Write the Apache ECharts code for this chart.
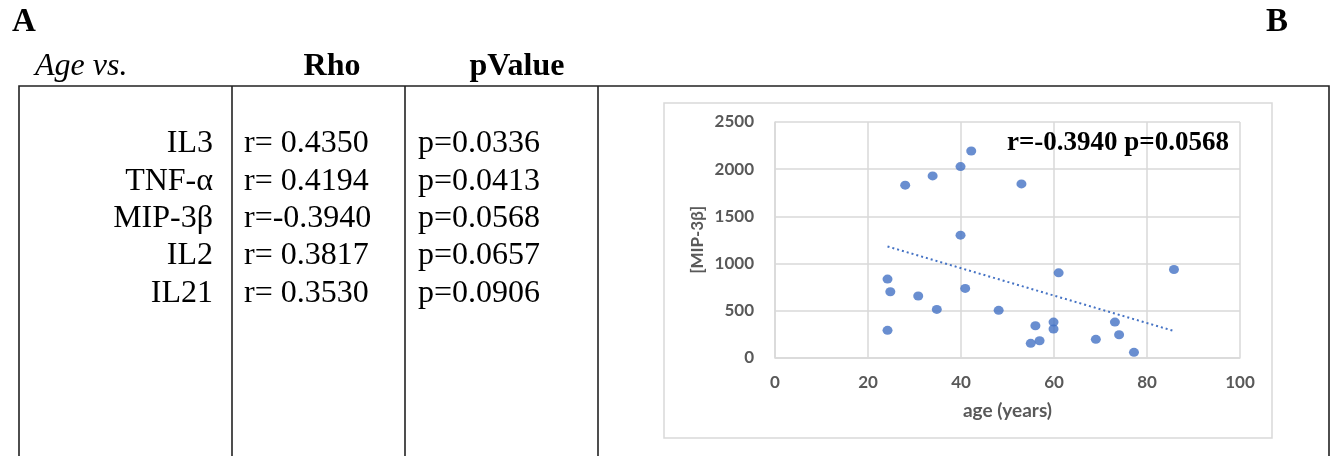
<!DOCTYPE html>
<html><head><meta charset="utf-8">
<script src="https://cdn.jsdelivr.net/npm/echarts@6/dist/echarts.min.js"></script>
<style>html,body{margin:0;padding:0;background:#fff;}#c{width:1331px;height:456px;}</style>
</head><body><div id="c"></div>
<script>
// ---- Table (panel A) ----
const headers = ['Age vs.', 'Rho', 'pValue'];
const markers = ['IL3', 'TNF-α', 'MIP-3β', 'IL2', 'IL21'];
const rhoText = ['r= 0.4350', 'r= 0.4194', 'r=-0.3940', 'r= 0.3817', 'r= 0.3530'];
const pText = ['p=0.0336', 'p=0.0413', 'p=0.0568', 'p=0.0657', 'p=0.0906'];

// ---- Scatter (panel B) ----
const ageYears = [28.0, 33.9, 39.9, 42.2, 39.9, 24.2, 24.8, 30.8, 40.9, 53.0, 61.0, 85.8,
                  34.8, 24.2, 48.1, 56.0, 55.0, 56.9, 59.9, 59.9, 69.0, 73.1, 74.0, 77.2];
const mip3b = [1830, 1928, 2027, 2193, 1300, 834, 700, 654, 735, 1843, 900, 936,
               512, 290, 502, 339, 152, 180, 378, 304, 195, 378, 244, 57];
const trendAge = [24.2, 85.8];
const trendMip = [1180, 283];
const annotation = 'r=-0.3940 p=0.0568';
const xName = 'age (years)';
const yName = '[MIP-3β]';

const serif = '"Liberation Serif", "Times New Roman", serif';
const sans = 'Lato, "Open Sans", sans-serif';

const graphics = [];
// panel letters
graphics.push({type:'text', x:12, y:22, style:{text:'A', font:'bold 33px ' + serif, fill:'#000', textVerticalAlign:'middle'}});
graphics.push({type:'text', x:1266, y:22, style:{text:'B', font:'bold 33px ' + serif, fill:'#000', textVerticalAlign:'middle'}});
// headers
graphics.push({type:'text', x:35, y:67, style:{text:headers[0], font:'italic 32px ' + serif, fill:'#000', textVerticalAlign:'middle'}});
graphics.push({type:'text', x:332, y:67, style:{text:headers[1], font:'bold 32px ' + serif, fill:'#000', textAlign:'center', textVerticalAlign:'middle'}});
graphics.push({type:'text', x:517, y:67, style:{text:headers[2], font:'bold 32px ' + serif, fill:'#000', textAlign:'center', textVerticalAlign:'middle'}});
// table frame
const lineStyle = {stroke:'#222', lineWidth:1.6};
graphics.push({type:'rect', shape:{x:19, y:86, width:1310, height:400}, style:{fill:'none', stroke:'#222', lineWidth:1.6}});
[232, 405, 598].forEach(function (vx) {
  graphics.push({type:'line', shape:{x1:vx, y1:86, x2:vx, y2:470}, style:lineStyle});
});
// rows
markers.forEach(function (m, i) {
  const yy = 144 + i * 37.3;
  graphics.push({type:'text', x:213, y:yy, style:{text:m, font:'32px ' + serif, fill:'#000', textAlign:'right', textVerticalAlign:'middle'}});
  graphics.push({type:'text', x:244, y:yy, style:{text:rhoText[i], font:'32px ' + serif, fill:'#000', textAlign:'left', textVerticalAlign:'middle'}});
  graphics.push({type:'text', x:418, y:yy, style:{text:pText[i], font:'32px ' + serif, fill:'#000', textAlign:'left', textVerticalAlign:'middle'}});
});
// chart box
graphics.push({type:'rect', shape:{x:664, y:103, width:608, height:335}, style:{fill:'none', stroke:'#d9d9d9', lineWidth:1.5}, z:-1});
// annotation
graphics.push({type:'text', x:1229, y:143, style:{text:annotation, font:'bold 27px ' + serif, fill:'#000', textAlign:'right', textVerticalAlign:'middle'}, z:10});

const chart = echarts.init(document.getElementById('c'), null, {renderer:'canvas'});
chart.setOption({
  backgroundColor:'#fff',
  animation:false,
  grid:{left:775, top:122, right:91, bottom:98.3},
  xAxis:{
    type:'value', min:0, max:100, interval:20,
    name:xName, nameLocation:'middle', nameGap:44,
    nameTextStyle:{fontFamily:sans, fontWeight:'bold', fontSize:19, color:'#595959'},
    axisLine:{show:true, lineStyle:{color:'#d9d9d9', width:1.5}},
    axisTick:{show:false},
    axisLabel:{margin:16, fontFamily:sans, fontWeight:'bold', fontSize:17, color:'#595959',
               formatter:function (v) { return String(v); }},
    splitLine:{show:true, lineStyle:{color:'#d9d9d9', width:1.5}}
  },
  yAxis:{
    type:'value', min:0, max:2500, interval:500,
    name:yName, nameLocation:'middle', nameGap:69, nameRotate:90,
    nameTextStyle:{fontFamily:sans, fontWeight:'bold', fontSize:17, color:'#595959'},
    axisLine:{show:true, lineStyle:{color:'#d9d9d9', width:1.5}},
    axisTick:{show:false},
    axisLabel:{margin:21, fontFamily:sans, fontWeight:'bold', fontSize:17, color:'#595959',
               formatter:function (v) { return String(v); }},
    splitLine:{show:true, lineStyle:{color:'#d9d9d9', width:1.5}}
  },
  series:[
    {
      type:'scatter', symbol:'circle', symbolSize:[10, 9],
      itemStyle:{color:'#4472C4'},
      data:ageYears.map(function (a, i) { return [a, mip3b[i]]; }),
      z:3
    },
    {
      type:'line', symbol:'none', silent:true,
      lineStyle:{color:'#4472C4', width:2, type:[2, 3]},
      data:trendAge.map(function (a, i) { return [a, trendMip[i]]; }),
      z:2
    }
  ],
  graphic:graphics
});
</script></body></html>
